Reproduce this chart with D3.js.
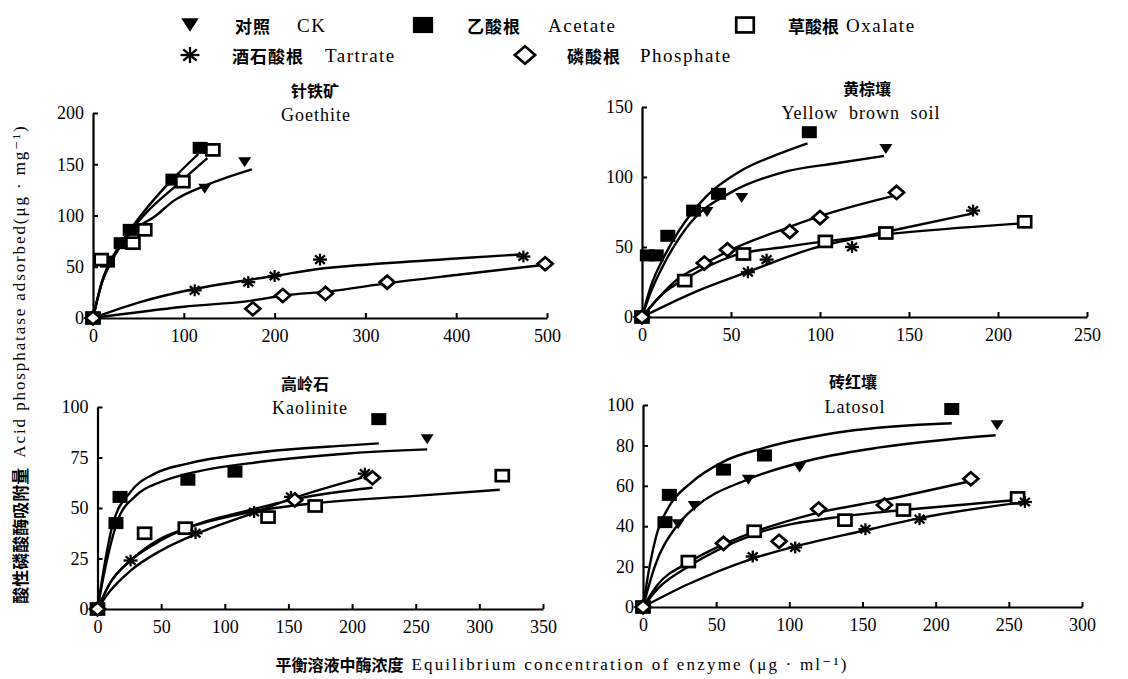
<!DOCTYPE html>
<html><head><meta charset="utf-8">
<script src="https://cdn.jsdelivr.net/npm/d3@7"></script>
<style>body{margin:0;background:#fff}</style>
</head><body>
<svg id="c" width="1128" height="679"></svg>
<script>
// ---------- series names ----------
const seriesKeys = ["CK", "Acetate", "Oxalate", "Tartrate", "Phosphate"];
const seriesZh = ["对照", "乙酸根", "草酸根", "酒石酸根", "磷酸根"];

// ---------- Goethite ----------
const goethiteXTicks = [0, 100, 200, 300, 400, 500];
const goethiteYTicks = [0, 50, 100, 150, 200];
const goethiteCK = [[0,0],[123,126],[167,152]];
const goethiteAcetate = [[0,0],[16,55],[31,73],[41,86],[88,135],[118,166]];
const goethiteOxalate = [[0,0],[9,57],[44,73],[57,86],[99,133],[132,164]];
const goethiteTartrate = [[0,0],[112,27],[171,35],[200,41],[250,57],[474,60]];
const goethitePhosphate = [[0,0],[176,9],[209,22],[256,24],[324,35],[498,53]];
const goethiteCKFit = [[0,0],[10,35],[20,55],[30,70],[40,82],[68,99],[90,115],[123,129],[175,145]];
const goethiteAcetateFit = [[0,0],[10,36],[20,57],[30,72],[40,85],[60,108],[85,133],[116,160]];
const goethiteOxalateFit = [[0,0],[10,35],[20,55],[30,70],[40,83],[60,104],[90,128],[126,156]];
const goethiteTartrateFit = [[0,0],[50,15],[110,28],[170,37],[200,41],[250,48],[300,52],[400,58],[470,62]];
const goethitePhosphateFit = [[0,0],[100,11],[175,17],[210,22],[260,26],[325,34],[400,42],[498,52]];

// ---------- Yellow brown soil ----------
const yellowXTicks = [0, 50, 100, 150, 200, 250];
const yellowYTicks = [0, 50, 100, 150];
const yellowCK = [[0,0],[36.5,75],[56,85],[137,120]];
const yellowAcetate = [[0,0],[3,44],[8,44],[14.5,58],[29,76],[43,88],[94,132]];
const yellowOxalate = [[0,0],[24,26],[57,45],[103,54],[137,60],[215,68]];
const yellowTartrate = [[0,0],[59.5,32],[70,41],[118,50],[186,76]];
const yellowPhosphate = [[0,0],[35,38.5],[48,48],[83,61],[100,71],[143,89]];
const yellowCKFit = [[0,0],[5,18],[12,37],[27,67],[50,89],[78,103],[110,110],[136,115]];
const yellowAcetateFit = [[0,0],[5,22],[12,42],[21,62],[36,86],[55,104],[78,117],[93,124]];
const yellowOxalateFit = [[0,0],[12,17],[24,27],[52,44],[80,50],[103,54],[137,59],[215,67]];
const yellowTartrateFit = [[0,0],[30,18],[59,32],[96,49],[134,60],[186,74]];
const yellowPhosphateFit = [[0,0],[20,27],[35,38],[50,48],[80,63],[100,72],[143,87]];

// ---------- Kaolinite ----------
const kaoliniteXTicks = [0, 50, 100, 150, 200, 250, 300, 350];
const kaoliniteYTicks = [0, 25, 50, 75, 100];
const kaoliniteCK = [[0,0],[259,84]];
const kaoliniteAcetate = [[0,0],[14.5,42.5],[17.7,55.5],[71,64],[108,68],[221,94]];
const kaoliniteOxalate = [[0,0],[37,37.5],[69,40],[134,45.5],[171,51],[318,66]];
const kaoliniteTartrate = [[0,0],[26,24],[77,37.5],[123,48],[152,55.5],[210,67]];
const kaolinitePhosphate = [[0,0],[155,54],[216,65]];
const kaoliniteCKFit = [[0,0],[6,20],[16,44],[30,56],[50,63],[71,67],[130,73],[197,77],[259,79]];
const kaoliniteAcetateFit = [[0,0],[5,20],[12,42],[26,58],[45,67],[71,72],[120,77],[197,81],[221,82]];
const kaoliniteOxalateFit = [[0,0],[10,13],[26,24],[50,35],[70,40],[120,48],[165,52],[250,56],[316,59]];
const kaoliniteTartrateFit = [[0,0],[10,9],[26,19],[50,29],[77,37],[120,47],[150,54],[208,65]];
const kaolinitePhosphateFit = [[0,0],[10,13],[26,24],[50,34],[70,40],[120,49],[160,55],[216,60]];

// ---------- Latosol ----------
const latosolXTicks = [0, 50, 100, 150, 200, 250, 300];
const latosolYTicks = [0, 20, 40, 60, 80, 100];
const latosolCK = [[0,0],[24,41],[35,50],[72,63],[107,69],[242,90]];
const latosolAcetate = [[0,0],[15,42],[18,55.5],[55,68],[83,75],[211,98]];
const latosolOxalate = [[0,0],[31,22.5],[76,37.5],[138,43],[178,48],[256,54]];
const latosolTartrate = [[0,0],[75,25],[104,29.5],[152,38.5],[189,43.5],[261,52]];
const latosolPhosphate = [[0,0],[55,31.5],[93,32.5],[120,48.5],[165,50.5],[224,63.5]];
const latosolCKFit = [[0,0],[8,20],[23,40],[35,49],[71,63],[116,73],[162,79],[241,85]];
const latosolAcetateFit = [[0,0],[5,22],[9,35],[18,50],[32,61],[55,72],[84,79],[139,87],[211,91]];
const latosolOxalateFit = [[0,0],[10,9],[31,20],[76,36],[138,45],[178,48],[256,53]];
const latosolTartrateFit = [[0,0],[30,11],[75,24],[104,30],[152,38],[189,44],[261,52]];
const latosolPhosphateFit = [[0,0],[10,11],[31,22],[55,31],[116,46],[165,53],[222,62]];

// ---------- text ----------
const yAxisZh = "酸性磷酸酶吸附量";
const yAxisEn = "Acid phosphatase adsorbed(μg · mg⁻¹)";
const xAxisZh = "平衡溶液中酶浓度";
const xAxisEn = "Equilibrium concentration of enzyme (μg · ml⁻¹)";

const CJK = "'Noto Sans CJK SC', sans-serif";
const SERIF = "'Liberation Serif', 'DejaVu Serif', serif";

const svg = d3.select("#c");
svg.append("rect").attr("width",1128).attr("height",679).attr("fill","#fff");

// marker drawing
function marker(g, key, x, y, s) {
  s = s || 1;
  if (key === "CK") {
    const w = 6.5*s, h = 10*s;
    g.append("path").attr("d", `M${x-w},${y-h/2}L${x+w},${y-h/2}L${x},${y+h/2}Z`).attr("fill","#000");
  } else if (key === "Acetate") {
    g.append("rect").attr("x", x-7.5*s).attr("y", y-6*s).attr("width", 15*s).attr("height", 12*s).attr("fill","#000");
  } else if (key === "Oxalate") {
    g.append("rect").attr("x", x-6.5*s).attr("y", y-5.5*s).attr("width", 13*s).attr("height", 11*s)
      .attr("fill","#fff").attr("stroke","#000").attr("stroke-width", 2.7);
  } else if (key === "Tartrate") {
    const r = 7*s;
    [0,45,90,135].forEach(a => {
      const rad = a*Math.PI/180;
      g.append("line").attr("x1", x-r*Math.cos(rad)).attr("y1", y-r*Math.sin(rad)*0.85)
        .attr("x2", x+r*Math.cos(rad)).attr("y2", y+r*Math.sin(rad)*0.85)
        .attr("stroke","#000").attr("stroke-width", 2.3);
    });
  } else if (key === "Phosphate") {
    const w = 7.5*s, h = 6.5*s;
    g.append("path").attr("d", `M${x-w},${y}L${x},${y-h}L${x+w},${y}L${x},${y+h}Z`)
      .attr("fill","#fff").attr("stroke","#000").attr("stroke-width", 2.7);
  }
}

const panels = [
  { zh:"针铁矿", en:"Goethite", xd:[0,500], yd:[0,200], xr:[93,547], yr:[318,113],
    xt:goethiteXTicks, yt:goethiteYTicks, tzh:[315,90], ten:[316,115],
    pts:[goethiteCK,goethiteAcetate,goethiteOxalate,goethiteTartrate,goethitePhosphate],
    fits:[goethiteCKFit,goethiteAcetateFit,goethiteOxalateFit,goethiteTartrateFit,goethitePhosphateFit] },
  { zh:"黄棕壤", en:"Yellow brown soil", xd:[0,250], yd:[0,150], xr:[642,1087], yr:[317,107],
    xt:yellowXTicks, yt:yellowYTicks, tzh:[867,88], ten:[861,113],
    pts:[yellowCK,yellowAcetate,yellowOxalate,yellowTartrate,yellowPhosphate],
    fits:[yellowCKFit,yellowAcetateFit,yellowOxalateFit,yellowTartrateFit,yellowPhosphateFit] },
  { zh:"高岭石", en:"Kaolinite", xd:[0,350], yd:[0,100], xr:[97.5,543], yr:[609,407],
    xt:kaoliniteXTicks, yt:kaoliniteYTicks, tzh:[305,383], ten:[310,408],
    pts:[kaoliniteCK,kaoliniteAcetate,kaoliniteOxalate,kaoliniteTartrate,kaolinitePhosphate],
    fits:[kaoliniteCKFit,kaoliniteAcetateFit,kaoliniteOxalateFit,kaoliniteTartrateFit,kaolinitePhosphateFit] },
  { zh:"砖红壤", en:"Latosol", xd:[0,300], yd:[0,100], xr:[643,1082], yr:[607,405],
    xt:latosolXTicks, yt:latosolYTicks, tzh:[853,381], ten:[855,407],
    pts:[latosolCK,latosolAcetate,latosolOxalate,latosolTartrate,latosolPhosphate],
    fits:[latosolCKFit,latosolAcetateFit,latosolOxalateFit,latosolTartrateFit,latosolPhosphateFit] }
];

panels.forEach(p => {
  const x = d3.scaleLinear().domain(p.xd).range(p.xr);
  const y = d3.scaleLinear().domain(p.yd).range(p.yr);
  const g = svg.append("g");

  // axes
  const xa = g.append("g").attr("transform", `translate(0,${p.yr[0]})`)
    .call(d3.axisBottom(x).tickValues(p.xt).tickFormat(d3.format("d")).tickSizeInner(-5).tickSizeOuter(0).tickPadding(11));
  const ya = g.append("g").attr("transform", `translate(${p.xr[0]},0)`)
    .call(d3.axisLeft(y).tickValues(p.yt).tickFormat(d3.format("d")).tickSizeInner(-5).tickSizeOuter(0).tickPadding(9));
  [xa, ya].forEach(a => {
    a.select(".domain").attr("stroke","#000").attr("stroke-width",2.2);
    a.selectAll(".tick line").attr("stroke","#000").attr("stroke-width",2);
    a.selectAll(".tick text").attr("fill","#000").style("font-family", SERIF).style("font-size","18px");
  });

  // titles
  g.append("text").attr("x", p.tzh[0]).attr("y", p.tzh[1]).attr("text-anchor","middle")
    .attr("dominant-baseline","central").style("font-family", CJK).style("font-weight","bold")
    .style("font-size","16px").text(p.zh);
  g.append("text").attr("x", p.ten[0]).attr("y", p.ten[1]).attr("text-anchor","middle")
    .attr("dominant-baseline","central").style("font-family", SERIF).style("font-size","18px")
    .style("letter-spacing","1px").style("word-spacing","5px").text(p.en);

  // fitted curves
  const line = d3.line().x(d => x(d[0])).y(d => y(d[1])).curve(d3.curveMonotoneX);
  p.fits.forEach(f => {
    g.append("path").attr("d", line(f)).attr("fill","none").attr("stroke","#000").attr("stroke-width",2.4);
  });
  // markers
  p.pts.forEach((arr, i) => {
    arr.forEach(d => marker(g, seriesKeys[i], x(d[0]), y(d[1]), 1));
  });
});

// legend
const legendItems = [
  {k:"CK", mx:190, my:25, zx:235, ex:297, ls:1},
  {k:"Acetate", mx:423, my:25, zx:467, ex:548, ls:1},
  {k:"Oxalate", mx:745, my:25, zx:788, ex:846, ls:0},
  {k:"Tartrate", mx:190, my:55, zx:232, ex:325, ls:1},
  {k:"Phosphate", mx:525, my:55, zx:567, ex:640, ls:1}
];
const lg = svg.append("g");
legendItems.forEach(it => {
  const i = seriesKeys.indexOf(it.k);
  marker(lg, it.k, it.mx, it.my, 1.35);
  lg.append("text").attr("x", it.zx).attr("y", it.my).attr("dominant-baseline","central")
    .style("font-family", CJK).style("font-weight","bold").style("font-size","17px")
    .style("letter-spacing", it.ls + "px").text(seriesZh[i]);
  lg.append("text").attr("x", it.ex).attr("y", it.my).attr("dominant-baseline","central")
    .style("font-family", SERIF).style("font-size","19px").style("letter-spacing","1.5px").text(it.k);
});

// y axis label
svg.append("text").attr("transform","translate(19,364) rotate(-90)").attr("text-anchor","middle")
  .attr("dominant-baseline","central")
  .call(t => {
    t.append("tspan").style("font-family", CJK).style("font-weight","bold").style("font-size","17px").text(yAxisZh);
    t.append("tspan").style("font-family", SERIF).style("font-size","17px").style("letter-spacing","1.9px")
      .attr("dx",10).text(yAxisEn);
  });

// x axis label
svg.append("text").attr("x", 562).attr("y", 664).attr("text-anchor","middle").attr("dominant-baseline","central")
  .call(t => {
    t.append("tspan").style("font-family", CJK).style("font-weight","bold").style("font-size","16px").text(xAxisZh);
    t.append("tspan").style("font-family", SERIF).style("font-size","17px").style("letter-spacing","2.2px")
      .attr("dx",8).text(xAxisEn);
  });
</script>
</body></html>
